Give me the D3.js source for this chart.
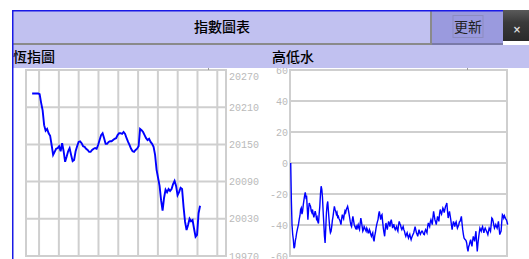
<!DOCTYPE html>
<html><head><meta charset="utf-8">
<script src="https://cdn.jsdelivr.net/npm/d3@7"></script>
<style>
html,body{margin:0;padding:0;background:#fff;overflow:hidden;}
svg{display:block;}
</style></head>
<body>
<script>
// ---- data ----
const titleText = "指數圖表";
const buttonText = "更新";
const closeText = "×";
const panelTitles = ["恆指圖", "高低水"];

const hsiTicks = [19970, 20030, 20090, 20150, 20210, 20270];
const hsiGridTimes = [0,1,2,3,4,5,6,7,8,9];
const hsiValues = [
20232,20232,20232,20232,20232,20231,20217,20205,20181,20172,20175,20168,20164,20149,20133,20138,
20143,20144,20147,20139,20152,20139,20122,20130,20139,20144,20133,20123,20125,20139,20147,20154,
20155,20152,20147,20146,20143,20141,20138,20138,20141,20143,20144,20143,20149,20157,20165,20168,
20160,20151,20151,20154,20155,20155,20157,20159,20160,20165,20168,20168,20167,20170,20167,20160,
20154,20149,20143,20139,20138,20141,20143,20147,20175,20173,20170,20165,20160,20157,20159,20154,
20151,20146,20133,20109,20096,20083,20060,20043,20064,20077,20073,20078,20075,20078,20086,20091,
20083,20068,20073,20080,20078,20049,20025,20012,20020,20030,20026,20028,20014,20001,20004,20039,
20051];

const basisTicks = [-60, -40, -20, 0, 20, 40, 60];
const basisValues = [
0,-24,-40,-46,-49.5,-55,-54,-50,-48,-45,-43,-41,-39,-36,-34,-30,-29,-33,-31,-27,-24,-21,-19,-22,-21,
-29,-36.6,-30,-25.8,-27,-28,-31,-32,-30,-33,-35,-33,-31,-33,-36,-35,-38,-39,-33,-28,-20,-15,-17,-22,
-31,-38.7,-47,-51.6,-42,-32.3,-27,-24.8,-31,-36.6,-42,-45,-44,-41,-37,-34.4,-31,-28,-30,-31,-33,-32,
-35,-34.4,-36,-36.6,-38,-39.8,-36,-33.3,-35,-36,-33,-31,-32,-30,-29,-28,-30,-32.3,-35,-37.7,-40,-41,
-37,-34.4,-37,-39.8,-41,-42,-41,-43,-41,-39.8,-42,-43,-39,-35.5,-38,-41,-44,-43,-41,-42,-43,-44,-42,
-43,-45,-45,-43,-44,-46,-47.3,-46,-45,-49,-50.6,-47,-45,-42,-39.8,-38,-36.6,-33,-31.2,-34,-36.6,-34,
-33.3,-38,-42,-45,-47.3,-42,-38.7,-41,-43,-40,-37.7,-39,-41,-38,-36.6,-39,-42,-40,-39.8,-42,-43,-42,
-41,-43,-44,-40,-37.7,-39,-40,-42,-43,-42,-41,-43,-44,-46,-47.3,-46,-45,-47,-48.4,-47,-46,-48,-49.5,
-48,-47,-46,-45,-43,-41,-43,-45,-46,-47.3,-45,-43,-45,-46,-45,-44,-44,-45,-46,-46.2,-44,-43,-44,-45,
-41,-38.7,-40,-41,-38,-36.6,-38,-39.8,-35,-31.2,-34,-36.6,-38,-39.8,-37,-34.4,-36,-37.7,-33,-30,-32,
-33,-31,-29,-30,-32,-30,-28,-27,-25.8,-31,-35.5,-33,-31.2,-34,-36.6,-40,-43,-40,-37.7,-39,-41,-39,-38,
-40,-42,-41,-39.8,-38,-37.7,-36,-34.4,-39,-43,-46,-48.4,-49,-49.5,-50,-51.6,-55,-57,-54,-52.7,-51,
-49.5,-52,-53.8,-50,-47.3,-49,-50.6,-47,-44,-51,-57,-52,-48.4,-45,-42,-43,-44,-42,-41,-43,-45,-43,-42,
-43,-44,-45,-46.2,-44,-42,-43,-44,-40,-35.5,-36,-37.7,-40,-42,-41,-39.8,-41,-42,-40,-37.7,-42,-46.2,
-45,-44,-38,-33.3,-34,-35.5,-34,-35,-36,-36.6,-38,-39.8];

// ---- drawing ----
const W = 529, H = 259;
const svg = d3.select("body").append("svg").attr("width", W).attr("height", H);
const cjk = "'Noto Sans CJK TC','Noto Sans CJK SC',sans-serif";
const mono = "'Liberation Mono','DejaVu Sans Mono',monospace";
const gridCol = "#cfcfcf", labelCol = "#bababa", lineCol = "#0000ff";

// left chart
const lx0 = 26, lx1 = 226, plotTop = 70, plotBot = 256;
const xL = d3.scaleLinear().domain([-0.66, 9.44]).range([lx0, lx1]);
const yL = d3.scaleLinear().domain([19970, 20270]).range([plotBot, plotTop]);
const gL = svg.append("g");
gL.selectAll("line.v").data(hsiGridTimes).join("line").attr("class", "v")
  .attr("x1", d => xL(d)).attr("x2", d => xL(d)).attr("y1", plotTop).attr("y2", plotBot)
  .attr("stroke", gridCol).attr("stroke-width", 2);
gL.selectAll("line.h").data(hsiTicks).join("line").attr("class", "h")
  .attr("x1", lx0).attr("x2", lx1).attr("y1", d => yL(d)).attr("y2", d => yL(d))
  .attr("stroke", gridCol).attr("stroke-width", 2);
gL.append("rect").attr("x", lx0).attr("y", plotTop).attr("width", lx1 - lx0).attr("height", plotBot - plotTop)
  .attr("fill", "none").attr("stroke", gridCol).attr("stroke-width", 2);
gL.selectAll("text").data(hsiTicks).join("text")
  .attr("x", 229).attr("y", d => Math.max(yL(d), 76)).attr("dy", "0.35em")
  .attr("font-family", mono).attr("font-size", 10).attr("fill", labelCol)
  .text(d => d);
const xLd = d3.scaleLinear().domain([0, hsiValues.length - 1]).range([xL(-0.35), xL(8.13)]);
gL.append("path").datum(hsiValues)
  .attr("d", d3.line().x((d, i) => xLd(i)).y(d => yL(d)))
  .attr("fill", "none").attr("stroke", lineCol).attr("stroke-width", 1.9);

// right chart
const rx0 = 290, rx1 = 507;
const yR = d3.scaleLinear().domain([-60, 60]).range([plotBot, plotTop]);
const gR = svg.append("g");
gR.selectAll("line.h").data(basisTicks).join("line").attr("class", "h")
  .attr("x1", rx0).attr("x2", rx1).attr("y1", d => yR(d)).attr("y2", d => yR(d))
  .attr("stroke", gridCol).attr("stroke-width", 2);
gR.append("rect").attr("x", rx0).attr("y", plotTop).attr("width", rx1 - rx0).attr("height", plotBot - plotTop)
  .attr("fill", "none").attr("stroke", gridCol).attr("stroke-width", 2);
gR.selectAll("text").data(basisTicks).join("text")
  .attr("x", 288).attr("y", d => yR(d)).attr("dy", "0.35em").attr("text-anchor", "end")
  .attr("font-family", mono).attr("font-size", 10).attr("fill", labelCol)
  .text(d => d);
const xRd = d3.scaleLinear().domain([0, basisValues.length - 1]).range([290.7, 507.7]);
gR.append("path").datum(basisValues)
  .attr("d", d3.line().x((d, i) => xRd(i)).y(d => yR(d)))
  .attr("fill", "none").attr("stroke", lineCol).attr("stroke-width", 1.4);

// panel title band
svg.append("rect").attr("x", 13).attr("y", 45).attr("width", W - 13).attr("height", 23).attr("fill", "#c1c1f0");
svg.selectAll("text.pt").data(panelTitles).join("text").attr("class", "pt")
  .attr("x", (d, i) => i === 0 ? 13 : 272).attr("y", 57).attr("dy", "0.35em")
  .attr("font-family", cjk).attr("font-size", 14).attr("font-weight", 500).attr("fill", "#000").text(d => d);
svg.append("rect").attr("x", 208).attr("y", 68).attr("width", 1).attr("height", 2).attr("fill", "#999");
svg.append("rect").attr("x", 467).attr("y", 68).attr("width", 1).attr("height", 2).attr("fill", "#999");

// header bar
svg.append("rect").attr("x", 13).attr("y", 11).attr("width", 419).attr("height", 32).attr("fill", "#c1c1f0");
svg.append("rect").attr("x", 13).attr("y", 43).attr("width", 419).attr("height", 2).attr("fill", "#8a8a8a");
svg.append("rect").attr("x", 430).attr("y", 11).attr("width", 2).attr("height", 34).attr("fill", "#8a8a8a");
svg.append("rect").attr("x", 432).attr("y", 11).attr("width", 71).attr("height", 33).attr("fill", "#9a9ade");
svg.append("rect").attr("x", 432).attr("y", 43).attr("width", 71).attr("height", 2).attr("fill", "#7a7aa8");
svg.append("rect").attr("x", 453).attr("y", 15.5).attr("width", 30).attr("height", 22)
  .attr("fill", "none").attr("stroke", "#8c8cc0").attr("stroke-width", 1);
svg.append("text").attr("x", 222).attr("y", 27.5).attr("dy", "0.35em").attr("text-anchor", "middle")
  .attr("font-family", cjk).attr("font-size", 14).attr("font-weight", 500).attr("fill", "#000").text(titleText);
svg.append("text").attr("x", 468).attr("y", 27.5).attr("dy", "0.35em").attr("text-anchor", "middle")
  .attr("font-family", cjk).attr("font-size", 14).attr("fill", "#222").text(buttonText);
const grad = svg.append("defs").append("linearGradient").attr("id", "dk").attr("x1", 0).attr("x2", 0).attr("y1", 0).attr("y2", 1);
grad.append("stop").attr("offset", "0%").attr("stop-color", "#5a5a5a");
grad.append("stop").attr("offset", "40%").attr("stop-color", "#3a3a3a");
grad.append("stop").attr("offset", "100%").attr("stop-color", "#2a2a2a");
svg.append("rect").attr("x", 503).attr("y", 10).attr("width", 26).attr("height", 31).attr("fill", "url(#dk)");
svg.append("text").attr("x", 517).attr("y", 29).attr("dy", "0.35em").attr("text-anchor", "middle")
  .attr("font-family", "'DejaVu Sans',sans-serif").attr("font-size", 10).attr("font-weight", "bold")
  .attr("fill", "#ddd").text(closeText);

// blue frame lines
svg.append("rect").attr("x", 12).attr("y", 10).attr("width", 491).attr("height", 1.5).attr("fill", "#1a1ae6");
svg.append("rect").attr("x", 12).attr("y", 10).attr("width", 1.5).attr("height", H - 10).attr("fill", "#1a1ae6");
</script>
</body></html>
